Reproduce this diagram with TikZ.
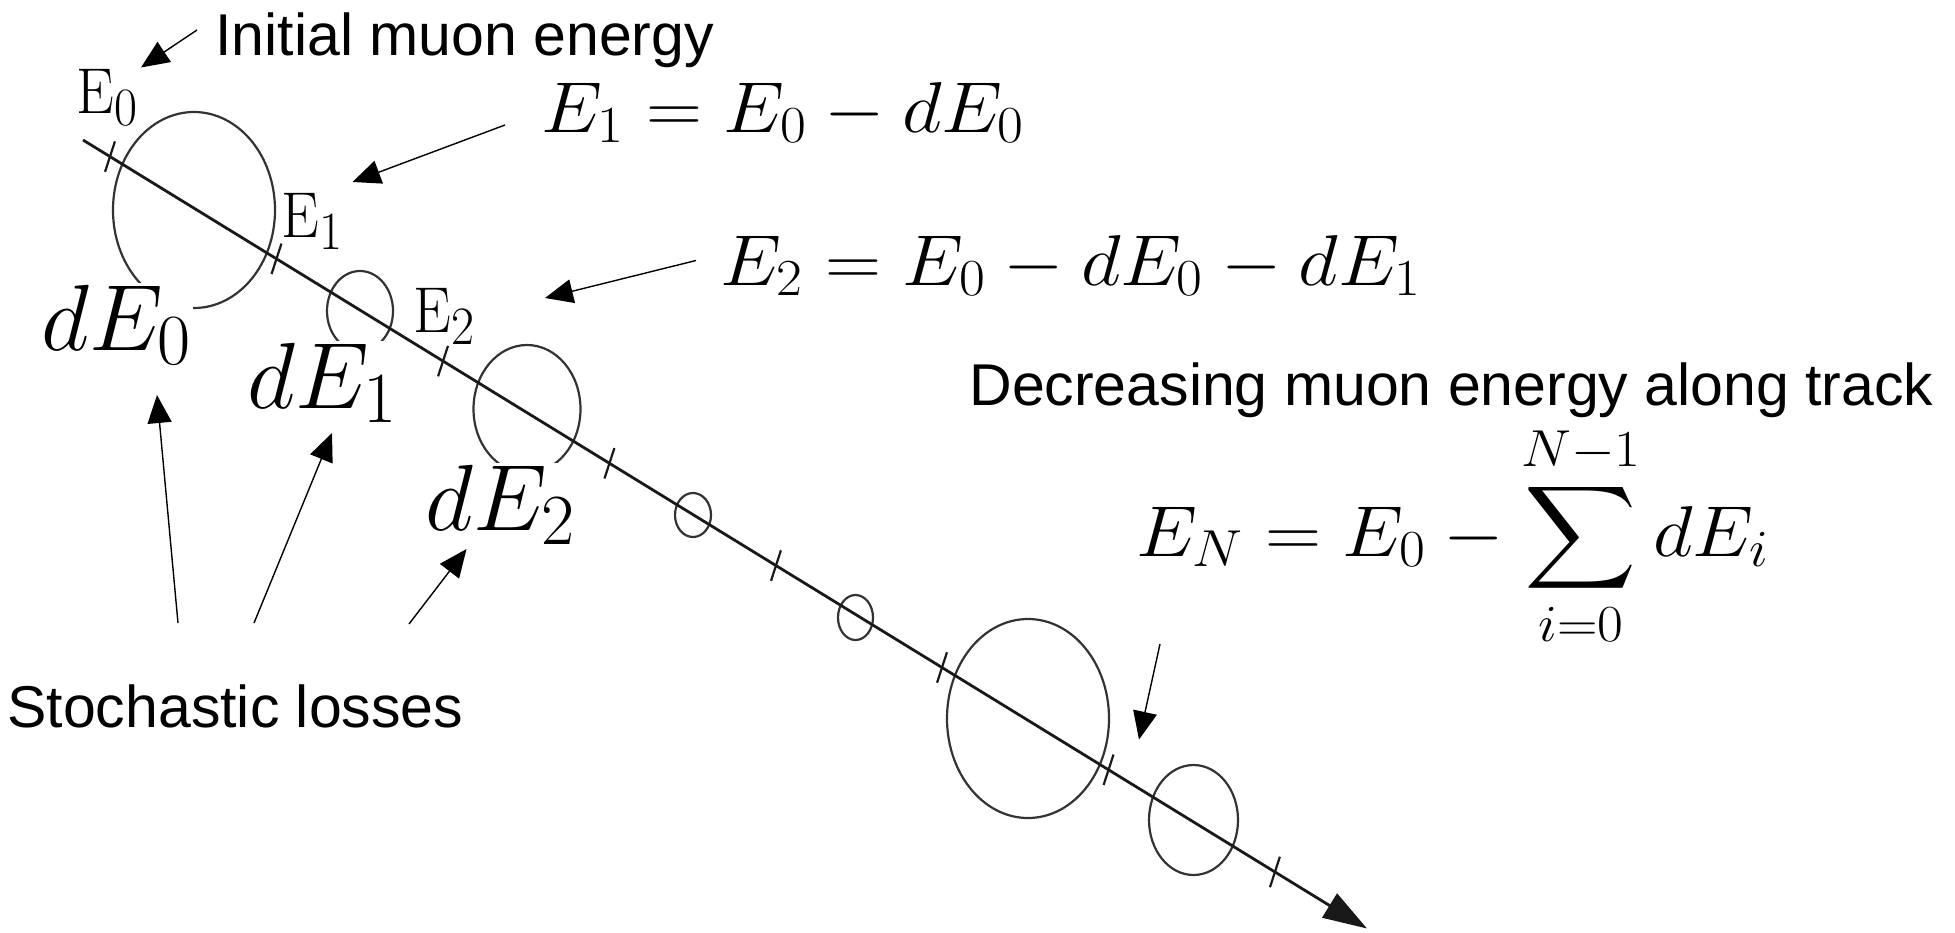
\RequirePackage{fix-cm}
\documentclass[tikz,border=0pt]{standalone}
\usepackage{exscale}
\DeclareFontShape{OMX}{cmex}{m}{n}{<->cmex10}{}
\usepackage{fontspec}
\newfontfamily\lsans{Liberation Sans}
\usetikzlibrary{arrows.meta,calc}
\DeclareMathSizes{30}{30}{25}{19}
\DeclareMathSizes{47}{47}{36}{26}
\DeclareMathSizes{36}{36}{26}{19}
\tikzset{
  track/.style={line width=1.4pt, draw=black!90, -{Triangle[length=22pt,width=14pt]}},
  tickmark/.style={line width=1.1pt, draw=black!90},
  loss/.style={line width=1.1pt, draw=black!80},
  pointer/.style={line width=0.7pt, -{Triangle[length=14pt,width=12pt]}},
  sans/.style={font=\lsans\fontsize{29.5}{34}\selectfont, inner sep=0pt, anchor=base west},
  eqn/.style={font=\fontsize{36}{42}\selectfont, inner sep=0pt, anchor=base west},
  dlabel/.style={font=\fontsize{47}{54}\selectfont, fill=white, inner sep=1pt, anchor=base west},
  elabel/.style={font=\fontsize{30}{34}\selectfont, inner sep=0pt, anchor=base west},
}
\begin{document}
\begin{tikzpicture}[x=0.5pt,y=-0.5pt]
\useasboundingbox (0,0) rectangle (1955,932);
% energy losses
\draw[loss] (194,210) ellipse [x radius=40.5pt, y radius=49pt];
\draw[loss] (360,311) ellipse [x radius=16.5pt, y radius=20pt];
\draw[loss] (527,409) ellipse [x radius=26.75pt, y radius=32pt];
\draw[loss] (693,515) ellipse [x radius=9pt, y radius=11pt];
\draw[loss] (855.5,617.5) ellipse [x radius=8.75pt, y radius=11.25pt];
\draw[loss] (1028,718.5) ellipse [x radius=40.5pt, y radius=49.75pt];
\draw[loss] (1193.5,820) ellipse [x radius=22.25pt, y radius=27.5pt];
% track
\coordinate (ts) at (83,140);
\coordinate (te) at (1367,928.5);
\draw[track] (ts) -- (te);
\foreach \t in {0.02103,0.1507,0.2804,0.4100,0.5397,0.6690,0.7987,0.9283}
  \draw[tickmark] ($(ts)!\t!(te)$) ++(-72:16) -- ++(108:32);
% small energy labels
\node[elabel] (e0) at (76,113) {\scalebox{1}[1.08]{$\mathrm{E}_0$}};
\node[elabel] (e1) at (281,237) {\scalebox{1}[1.08]{$\mathrm{E}_1$}};
\node[elabel] (e2) at (413,332) {\scalebox{1}[1.08]{$\mathrm{E}_2$}};
% loss labels
\node[dlabel] (de0) at (39,350) {$dE_0$};
\node[dlabel] (de1) at (245,408) {$dE_1$};
\node[dlabel] (de2) at (423,530) {$dE_2$};
% formulas
\node[eqn] (f1) at (541,132) {\scalebox{1.08}[1]{$E_1 = E_0 - dE_0$}};
\node[eqn] (f2) at (720,285) {\scalebox{1.08}[1]{$E_2 = E_0 - dE_0 - dE_1$}};
\node[eqn] (fn) at (1136,556) {\scalebox{1.08}[1]{$\displaystyle E_N = E_0 - \sum_{i=0}^{N-1} dE_i$}};
% texts
\node[sans] (init) at (215,55) {Initial muon energy};
\node[sans] (decr) at (969,405) {Decreasing muon energy along track};
\node[sans] (stoch) at (7,727) {Stochastic losses};
% pointers
\coordinate (a1s) at (197,30);   \coordinate (a1e) at (141,67.5);
\coordinate (a2s) at (505,125);  \coordinate (a2e) at (352.5,182);
\coordinate (a3s) at (696,260.5);\coordinate (a3e) at (545,298);
\coordinate (a4s) at (178,623);  \coordinate (a4e) at (157,395);
\coordinate (a5s) at (254,623);  \coordinate (a5e) at (332,433);
\coordinate (a6s) at (409,624);  \coordinate (a6e) at (466.5,549);
\coordinate (a7s) at (1160,644); \coordinate (a7e) at (1139,739.5);
\draw[pointer] (a1s) -- (a1e);
\draw[pointer] (a2s) -- (a2e);
\draw[pointer] (a3s) -- (a3e);
\draw[pointer] (a4s) -- (a4e);
\draw[pointer] (a5s) -- (a5e);
\draw[pointer] (a6s) -- (a6e);
\draw[pointer] (a7s) -- (a7e);
\end{tikzpicture}
\end{document}
